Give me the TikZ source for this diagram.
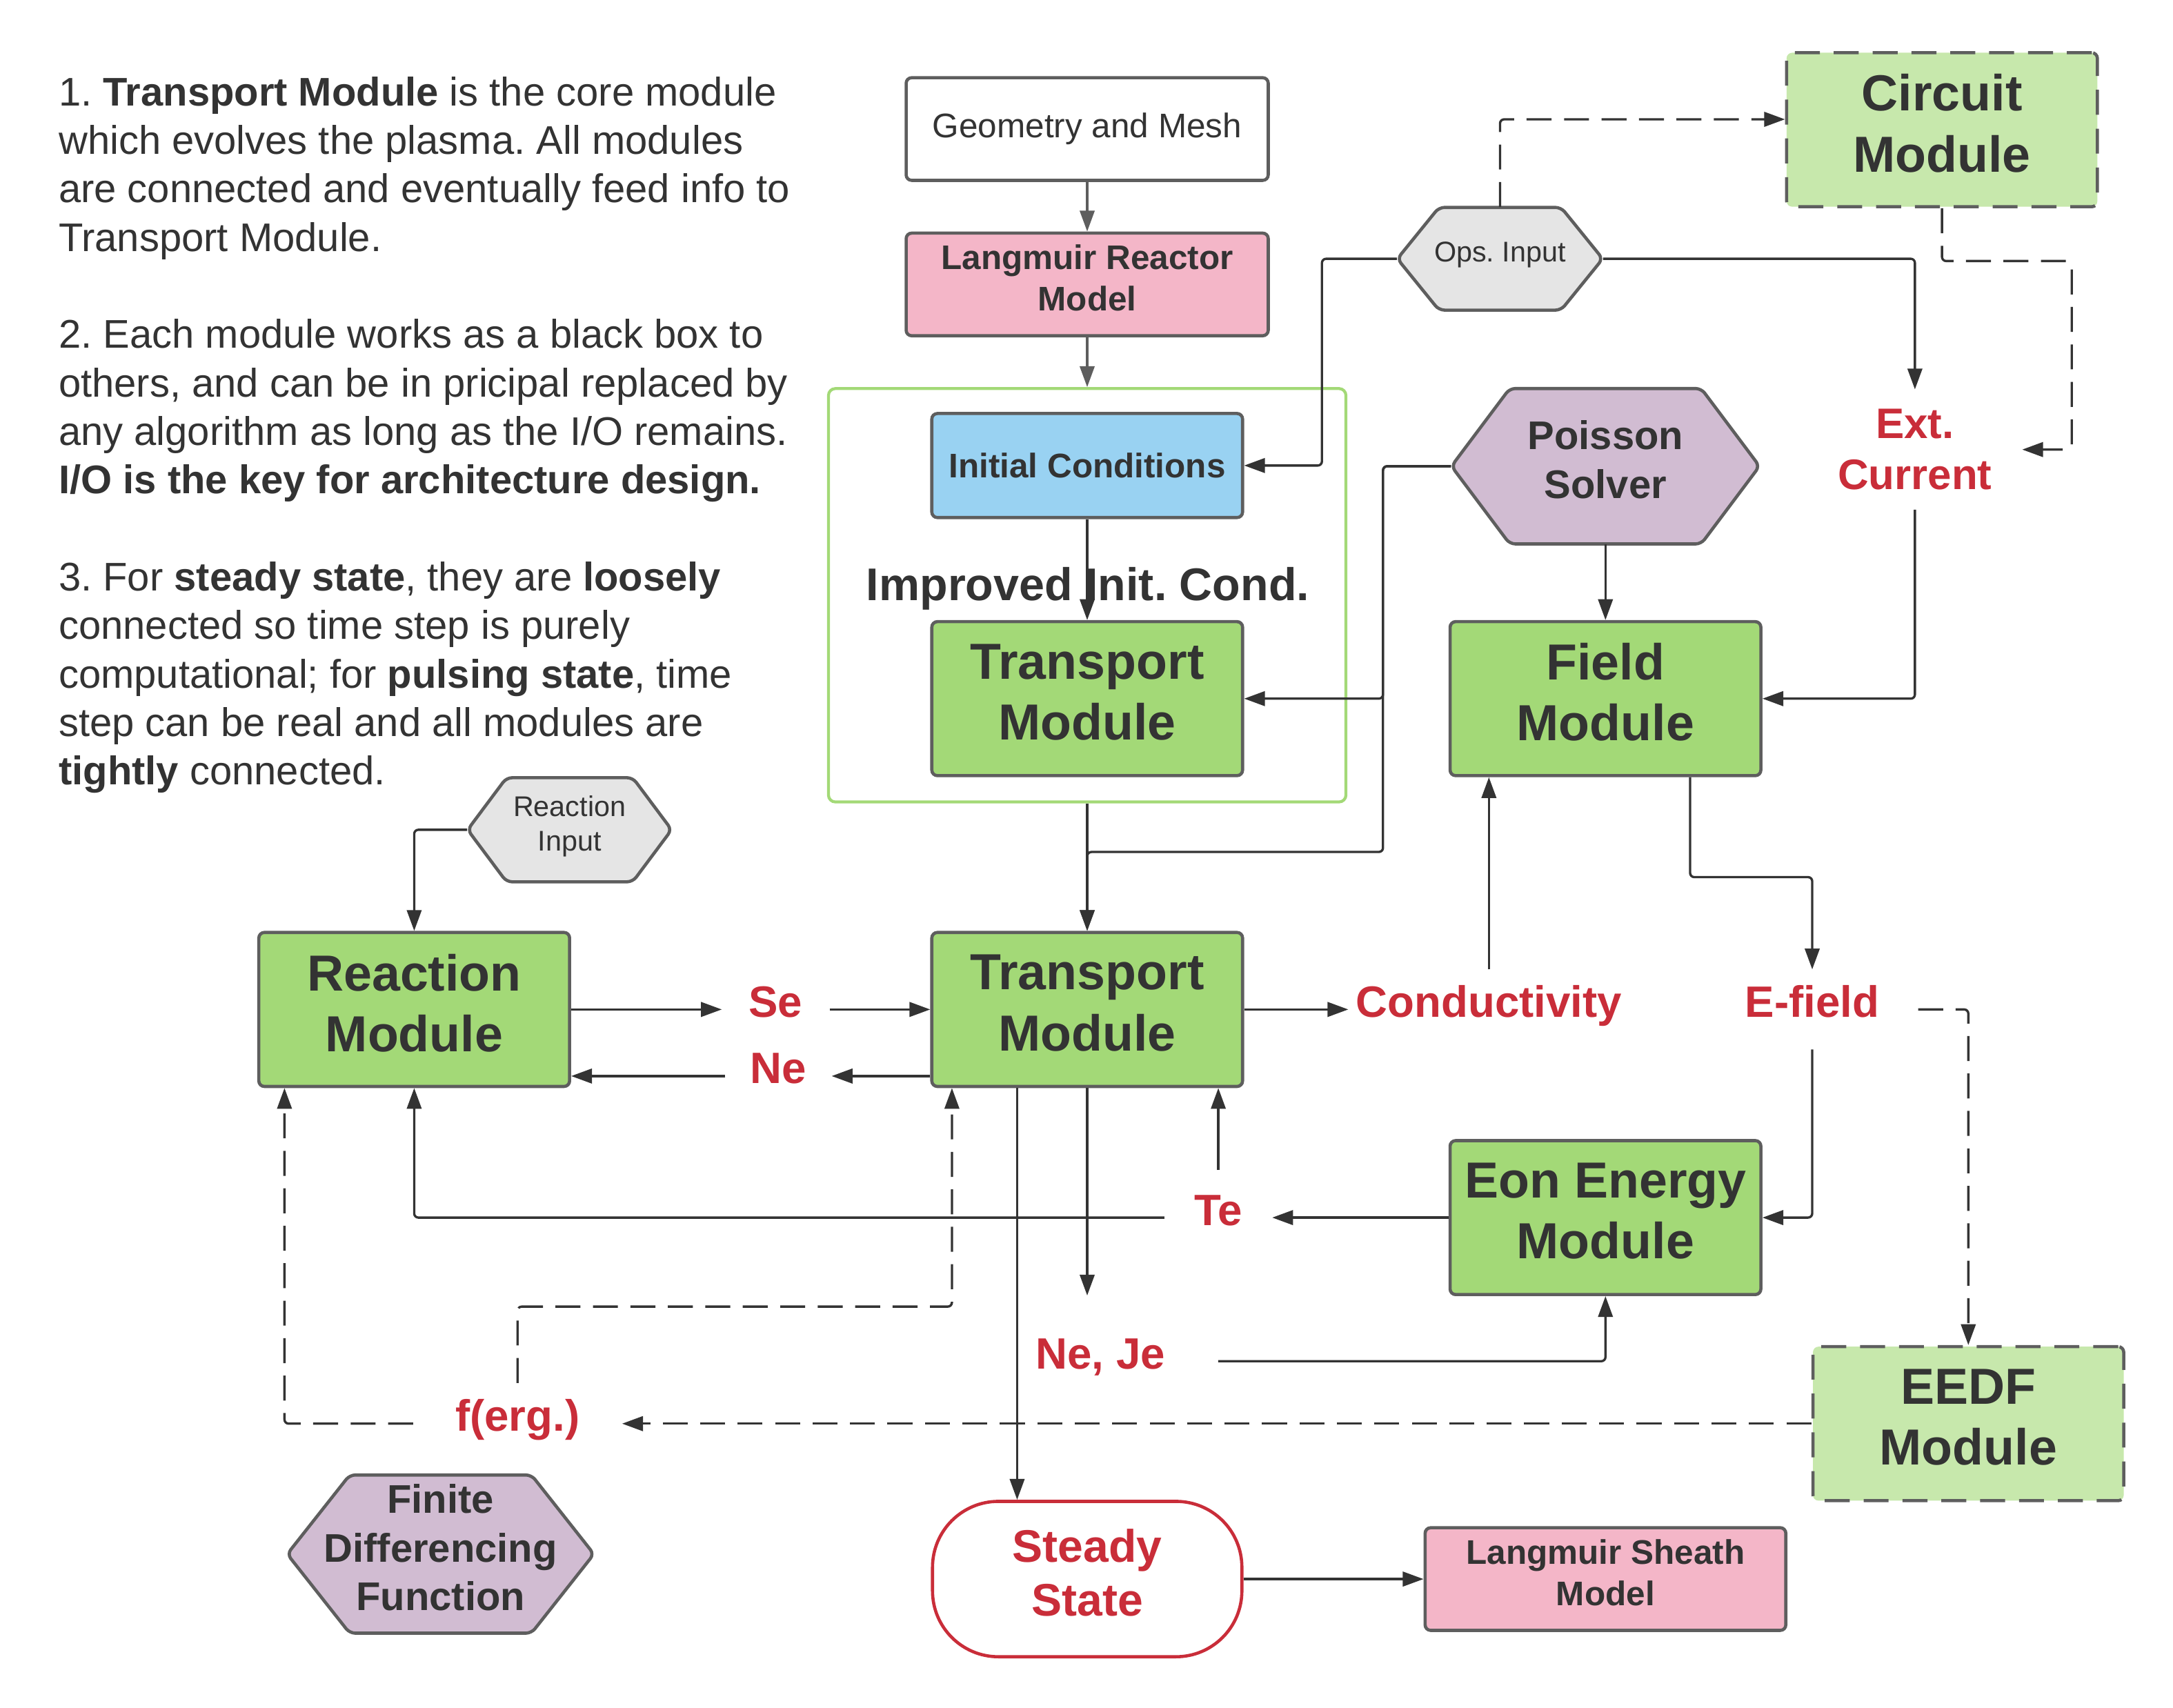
\documentclass[tikz,border=0pt]{standalone}
\usepackage{fontspec}
\setmainfont{Liberation Sans}
\usetikzlibrary{arrows.meta}
\frenchspacing

\definecolor{txtgray}{HTML}{333333}
\definecolor{edgegray}{HTML}{5E5E5E}
\definecolor{modgreen}{HTML}{A3D977}
\definecolor{lightgreen}{HTML}{C7E8AC}
\definecolor{pinkfill}{HTML}{F4B6C8}
\definecolor{bluefill}{HTML}{99D2F2}
\definecolor{purplefill}{HTML}{D1BCD2}
\definecolor{hexgray}{HTML}{E5E5E5}
\definecolor{labred}{HTML}{C92D39}

\newcommand{\lowstrut}{\rule[-5.5pt]{0pt}{0pt}}

\tikzset{
  box/.style={draw=edgegray, line width=1.3pt, rounded corners=0.08cm, inner sep=0pt, align=center, text=txtgray},
  module/.style={box, fill=modgreen, minimum width=4.48cm, minimum height=2.22cm, font=\fontsize{20.8}{25}\selectfont\bfseries, execute at end node=\lowstrut},
  drymodule/.style={module, fill=lightgreen, dash pattern=on 0.36cm off 0.2cm},
  smallbox/.style={box, minimum width=5.22cm, minimum height=1.48cm, font=\fontsize{14}{17}\selectfont\bfseries},
  hexline/.style={draw=edgegray, line width=1.3pt, rounded corners=0.08cm},
  hexnode/.style={inner sep=0pt, align=center, text=txtgray, execute at end node=\lowstrut},
  lbl/.style={inner sep=0pt, text=labred, font=\fontsize{18}{21}\selectfont\bfseries, text height=14pt, text depth=7.8pt},
  lbltwo/.style={inner sep=0pt, text=labred, align=center, font=\fontsize{17.5}{21}\selectfont\bfseries},
  conn/.style={draw=txtgray, line width=0.95pt, rounded corners=0.06cm, -{Triangle[length=0.3cm,width=0.21cm]}},
  dconn/.style={conn, dash pattern=on 0.36cm off 0.18cm}
}

\begin{document}
\begin{tikzpicture}[x=0.02cm, y=-0.02cm]
\useasboundingbox (0,0) rectangle (1566,1230.5);

\node[anchor=north west, inner sep=0pt, align=left, text=txtgray, font=\fontsize{16.4}{19.9}\selectfont] (notes) at (42,55) {1. \textbf{Transport Module} is the core module\\which evolves the plasma. All modules\\are connected and eventually feed info to\\Transport Module.\\[19.9pt]2. Each module works as a black box to\\others, and can be in pricipal replaced by\\any algorithm as long as the I/O remains.\\\textbf{I/O is the key for architecture design.}\\[19.9pt]3. For \textbf{steady state}, they are \textbf{loosely}\\connected so time step is purely\\computational; for \textbf{pulsing state}, time\\step can be real and all modules are\\\textbf{tightly} connected.}; % notes

% init column
\node[box, fill=white, minimum width=5.22cm, minimum height=1.48cm, font=\fontsize{14}{17}\selectfont] (geom) at (783.5,93) {Geometry and Mesh}; % geom
\node[smallbox, fill=pinkfill, execute at end node=\lowstrut] (reactor) at (783.5,205) {Langmuir Reactor\\Model}; % reactor
\node[draw=modgreen, line width=1.2pt, rounded corners=0.1cm, minimum width=7.46cm, minimum height=5.96cm] (initgrp) at (783.5,429) {}; % initgrp
\node[box, fill=bluefill, minimum width=4.48cm, minimum height=1.5cm, font=\fontsize{14}{17}\selectfont\bfseries] (init) at (783.5,335.5) {Initial Conditions}; % init
\node[text=txtgray, inner sep=0pt, font=\fontsize{18.8}{22}\selectfont\bfseries] (improved) at (784,424) {Improved Init. Cond.}; % improved
\node[module] (trinit) at (783.5,503.5) {Transport\\Module}; % trinit

% hexagons
\draw[hexline, fill=hexgray] (1007,186.5) -- (1037,149.5) -- (1125,149.5) -- (1155,186.5) -- (1125,223.5) -- (1037,223.5) -- cycle; % ops
\node[hexnode, minimum width=2.96cm, minimum height=1.48cm, font=\fontsize{11.7}{14}\selectfont] (ops) at (1081,186.5) {Ops. Input};
\draw[hexline, fill=purplefill] (1046,336) -- (1088,280) -- (1226,280) -- (1268,336) -- (1226,392) -- (1088,392) -- cycle; % poisson
\node[hexnode, minimum width=4.44cm, minimum height=2.24cm, font=\fontsize{16.4}{19.9}\selectfont\bfseries] (poisson) at (1157,336) {Poisson\\Solver};
\draw[hexline, fill=hexgray] (337,598) -- (365,560.5) -- (456,560.5) -- (484,598) -- (456,635.5) -- (365,635.5) -- cycle; % rin
\node[hexnode, minimum width=2.94cm, minimum height=1.5cm, font=\fontsize{11.7}{14.2}\selectfont] (rin) at (410.5,598) {Reaction\\Input};
\draw[hexline, fill=purplefill] (207,1120) -- (252,1063) -- (383,1063) -- (428,1120) -- (383,1177) -- (252,1177) -- cycle; % fdf
\node[hexnode, minimum width=4.42cm, minimum height=2.28cm, font=\fontsize{16.4}{19.9}\selectfont\bfseries] (fdf) at (317.5,1120) {Finite\\Differencing\\Function};

% modules
\node[drymodule] (circuit) at (1399.5,93.5) {Circuit\\Module}; % circuit
\node[module] (field) at (1157,503.5) {Field\\Module}; % field
\node[module] (reaction) at (298.5,727.5) {Reaction\\Module}; % reaction
\node[module] (transport) at (783.5,727.5) {Transport\\Module}; % transport
\node[module] (eon) at (1157,877.5) {Eon Energy\\Module}; % eon
\node[drymodule] (eedf) at (1418.5,1026) {EEDF\\Module}; % eedf
\node[box, draw=labred, fill=white, rounded corners=0.95cm, minimum width=4.46cm, minimum height=2.24cm, text=labred, font=\fontsize{18.7}{22}\selectfont\bfseries, execute at end node=\lowstrut] (steady) at (783.5,1138) {Steady\\State}; % steady
\node[smallbox, fill=pinkfill, minimum width=5.2cm, execute at end node=\lowstrut] (sheath) at (1157,1138) {Langmuir Sheath\\Model}; % sheath

% red labels
\node[lbltwo, minimum width=3.08cm, minimum height=1.72cm] (extcur) at (1380,324) {Ext.\\Current}; % extcur
\node[lbl, minimum width=1.54cm, minimum height=1.14cm] (se) at (559,727.5) {Se}; % se
\node[lbl, minimum width=1.52cm, minimum height=1.14cm] (ne) at (561,775.5) {Ne}; % ne
\node[lbl, minimum width=4.04cm, minimum height=1.14cm] (cond) at (1073,727.5) {Conductivity}; % cond
\node[lbl, minimum width=3.04cm, minimum height=1.14cm] (efield) at (1306,727.5) {E-field}; % efield
\node[lbl, minimum width=1.54cm, minimum height=1.36cm] (te) at (878,877.5) {Te}; % te
\node[lbl, minimum width=3.38cm, minimum height=1.88cm] (neje) at (793,981) {Ne, Je}; % neje
\node[lbl, minimum width=3.0cm, minimum height=1.16cm] (ferg) at (373,1026) {f(erg.)}; % ferg

% connectors
\draw[conn, draw=edgegray] (geom) -- (reactor);
\draw[conn, draw=edgegray] (reactor) -- (initgrp);
\draw[conn] (init) -- (trinit);
\draw[conn] (ops.west) -- ++(-54,0) |- (init.east);
\draw[dconn] (ops.north) |- ([yshift=0.15cm]circuit.west);
\draw[conn] (ops.east) -| (extcur.north);
\draw[dconn] (circuit.south) -- ++(0,38) -- ++(93.5,0) |- (extcur.east);
\draw[conn] (extcur.south) |- (field.east);
\draw[conn] (poisson.west) -- ++(-49,0) |- (trinit.east);
\draw[conn] (poisson.west) -- ++(-49,0) -- ++(0,278) -| (transport.north);
\draw[conn] (initgrp) -- (transport);
\draw[conn] (poisson) -- (field);
\draw[conn] ([xshift=1.22cm]field.south) -- ++(0,72) -| (efield.north);
\draw[conn] (cond.north) -- (cond.north |- field.south);
\draw[conn] (transport.east) -- (cond.west);
\draw[conn] (rin.west) -| (reaction.north);
\draw[conn] (reaction.east) -- (se.west);
\draw[conn] (se.east) -- (transport.west);
\draw[conn] (ne.east -| transport.west) -- (ne.east);
\draw[conn] (ne.west) -- (ne.west -| reaction.east);
\draw[conn] (efield.south) |- (eon.east);
\draw[conn] (eon.west) -- (te.east);
\draw[conn] (te.north) -- (te.north |- transport.south);
\draw[conn] (te.west) -| (reaction.south);
\draw[conn] (transport.south) -- (transport.south |- neje.north);
\draw[conn] (neje.east) -| (eon.south);
\draw[conn] ([xshift=-1.01cm]transport.south) -- ([xshift=-1.01cm]steady.north);
\draw[conn] (steady) -- (sheath);
\draw[dconn] (efield.east) -| (eedf.north);
\draw[dconn] (eedf.west) -- (ferg.east);
\draw[dconn] (ferg.west) -| ([xshift=-1.87cm]reaction.south);
\draw[dconn] (ferg.north) -- ++(0,-55) -| ([xshift=-1.95cm]transport.south);

\end{tikzpicture}
\end{document}
